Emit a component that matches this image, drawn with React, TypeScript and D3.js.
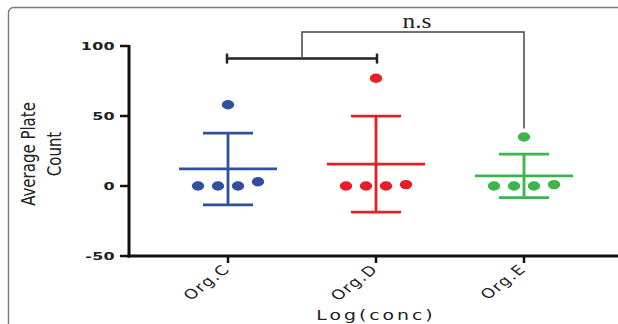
import * as d3 from 'd3';

// groups on the x axis
const categories = ['Org.C', 'Org.D', 'Org.E'];
const colors = ['#304f9f', '#e61e25', '#3db548'];

// individual plate counts per group
const orgC = [0, 0, 0, 3, 58];
const orgD = [0, 0, 0, 1, 77];
const orgE = [0, 0, 0, 1, 35];
const seriesValues = [orgC, orgD, orgE];

const yTicks = [-50, 0, 50, 100];
const yLabelLines = ['Average Plate', 'Count'];
const xTitle = 'Log(conc)';
const sigLabel = 'n.s';
// significance bracket levels (data units)
const bracketLevels = { low: 91, high: 110, end: 41 };

const W = 618;
const H = 324;
const SX = 1.3; // the original figure is stretched horizontally

export default function App() {
  const x = d3.scalePoint<string>().domain(categories).range([228, 524]);
  const y = d3.scaleLinear().domain([-50, 100]).range([256, 46]);
  const axisX = 129;

  const groups = categories.map((cat, gi) => {
    const vals = seriesValues[gi];
    const mean = d3.mean(vals) as number;
    const sd = d3.deviation(vals) as number;
    // simple beeswarm: points close in value share a row
    const sorted = vals.map((v, i) => ({ v, i })).sort((a, b) => a.v - b.v);
    const clusters: { v: number; i: number }[][] = [];
    sorted.forEach(p => {
      const last = clusters[clusters.length - 1];
      if (last && p.v - last[0].v < 8) last.push(p);
      else clusters.push([p]);
    });
    const pts: { v: number; dx: number }[] = [];
    clusters.forEach(c => {
      c.sort((a, b) => a.i - b.i);
      c.forEach((p, k) => pts.push({ v: p.v, dx: (k - (c.length - 1) / 2) * 20 }));
    });
    return { cat, color: colors[gi], mean, sd, pts };
  });

  const xc = (c: string) => x(c) as number;
  const bl = y(bracketLevels.low);
  const bh = y(bracketLevels.high);
  const be = y(bracketLevels.end);
  const midCD = (xc('Org.C') + xc('Org.D')) / 2;

  return (
    <div style={{ position: 'absolute', left: 0, top: 0 }}>
      <svg width={W} height={H} style={{ display: 'block', background: '#fff' }}>
        {/* frame */}
        <rect x={8.5} y={7.5} width={W + 20} height={H + 20} rx={5} fill="none" stroke="#7a7a7a" strokeWidth={1.4} />

        {/* axes */}
        <line x1={axisX} x2={axisX} y1={y(100) - 1} y2={y(-50) + 1.5} stroke="#111" strokeWidth={3} />
        <line x1={axisX - 1.5} x2={W} y1={y(-50)} y2={y(-50)} stroke="#111" strokeWidth={3} />
        {yTicks.map(t => (
          <g key={t}>
            <line x1={axisX - 9} x2={axisX} y1={y(t)} y2={y(t)} stroke="#111" strokeWidth={2.5} />
            <text
              transform={`translate(${axisX - 14},${y(t)}) scale(1.45,1)`}
              textAnchor="end"
              dy="0.36em"
              fontFamily="DejaVu Sans"
              fontWeight="bold"
              fontSize={11}
              letterSpacing={0.2}
              fill="#222"
            >
              {t}
            </text>
          </g>
        ))}
        {categories.map(c => (
          <g key={c}>
            <line x1={xc(c)} x2={xc(c)} y1={y(-50)} y2={y(-50) + 7} stroke="#111" strokeWidth={2.5} />
            <text
              transform={`translate(${xc(c) + 3},${y(-50) + 14}) scale(${SX},1) rotate(-45)`}
              textAnchor="end"
              fontFamily="DejaVu Sans"
              fontSize={13.5}
              letterSpacing={1.1}
              fill="#222"
            >
              {c}
            </text>
          </g>
        ))}

        {/* axis titles */}
        <text
          transform={`translate(${xc('Org.D')},${320}) scale(${SX},1)`}
          textAnchor="middle"
          fontFamily="DejaVu Sans"
          fontSize={14.5}
          letterSpacing={2.3}
          fill="#222"
        >
          {xTitle}
        </text>
        <g transform={`translate(41,154) scale(${SX},1) rotate(-90)`}>
          {yLabelLines.map((l, i) => (
            <text
              key={l}
              y={(i - 0.5) * 20.5}
              dy="0.35em"
              textAnchor="middle"
              fontFamily="DejaVu Sans"
              fontSize={15}
              fill="#222"
            >
              {l}
            </text>
          ))}
        </g>

        {/* mean +/- SD and points */}
        {groups.map(g => {
          const cx = xc(g.cat);
          return (
            <g key={g.cat} stroke={g.color} fill={g.color}>
              <line x1={cx} x2={cx} y1={y(g.mean + g.sd)} y2={y(g.mean - g.sd)} strokeWidth={2.8} />
              <line x1={cx - 25} x2={cx + 25} y1={y(g.mean + g.sd)} y2={y(g.mean + g.sd)} strokeWidth={2.8} />
              <line x1={cx - 25} x2={cx + 25} y1={y(g.mean - g.sd)} y2={y(g.mean - g.sd)} strokeWidth={2.8} />
              <line x1={cx - 49} x2={cx + 49} y1={y(g.mean)} y2={y(g.mean)} strokeWidth={2.8} />
              {g.pts.map((p, i) => (
                <ellipse key={i} cx={cx + p.dx} cy={y(p.v)} rx={6.2} ry={4.7} stroke="none" />
              ))}
            </g>
          );
        })}

        {/* significance bracket */}
        <g fill="none">
          <line x1={xc('Org.C') - 1} x2={xc('Org.D') + 1} y1={bl} y2={bl} stroke="#222" strokeWidth={2.5} />
          <line x1={xc('Org.C') - 1} x2={xc('Org.C') - 1} y1={bl - 5} y2={bl + 5} stroke="#222" strokeWidth={2.5} />
          <line x1={xc('Org.D') + 1} x2={xc('Org.D') + 1} y1={bl - 5} y2={bl + 5} stroke="#222" strokeWidth={2.5} />
          <path
            d={`M${midCD},${bl}V${bh}H${xc('Org.E')}V${be}`}
            stroke="#444"
            strokeWidth={1.5}
          />
        </g>
        <text
          transform={`translate(${(midCD + xc('Org.E')) / 2 + 4},${bh - 4}) scale(1.27,1)`}
          textAnchor="middle"
          fontFamily="Liberation Serif"
          fontSize={20}
          fill="#222"
        >
          {sigLabel}
        </text>
      </svg>
    </div>
  );
}
